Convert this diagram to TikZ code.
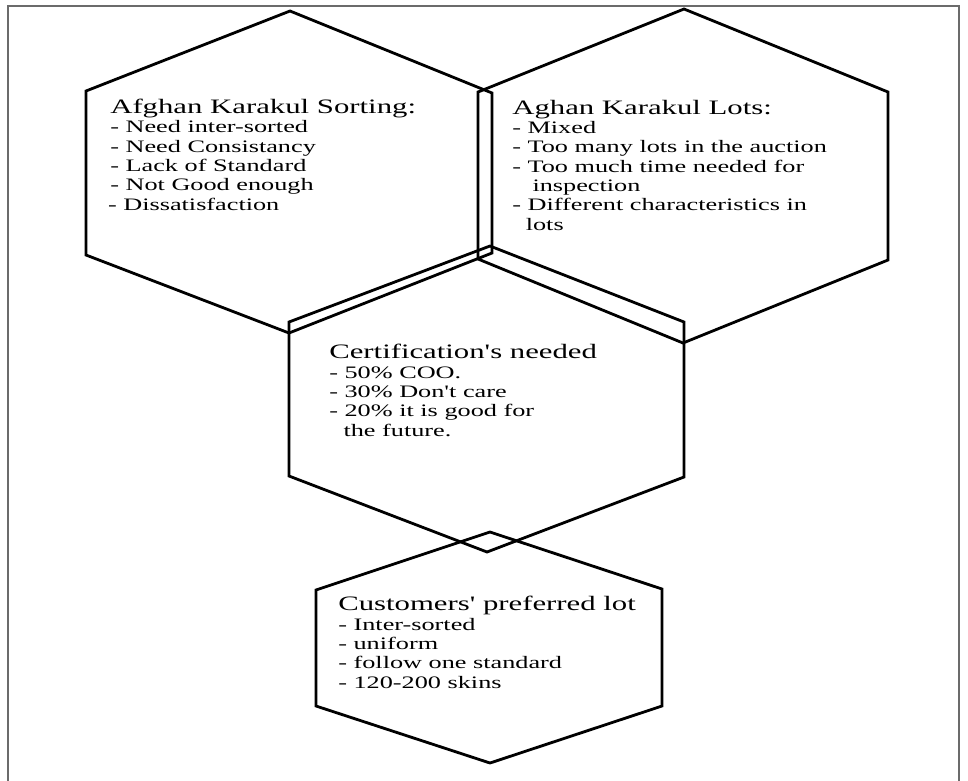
\documentclass[tikz,border=0pt]{standalone}
\usepackage{fontspec}
\setmainfont{Liberation Serif}

\begin{document}
\begin{tikzpicture}[x=1pt, y=-1pt,
		hexline/.style={line width=2.8pt, line join=miter},
		framebox/.style={draw=black!58, line width=2pt},
		hextext/.style={anchor=base west, align=left, inner sep=0pt, xscale=1.5, font=\fontsize{17.5}{19.3}\selectfont}]
			\useasboundingbox (0,0) rectangle (968,780);
			\draw[framebox] (8,6) rectangle (959,800);
			
			\draw[hexline] (290,11) -- (492,93) -- (492,253) -- (289,333) -- (86,255) -- (86,91) -- cycle;
			\draw[hexline] (684,9) -- (888,92) -- (888,260) -- (683,343) -- (478,259) -- (478,92) -- cycle;
			\draw[hexline] (490,246) -- (684,322) -- (684,477) -- (487,552) -- (289,476) -- (289,322) -- cycle;
			\draw[hexline] (490,532) -- (662,589) -- (662,706) -- (490,763) -- (316,706) -- (316,590) -- cycle;
			
			\node[hextext] (sorting) at (110,210) {{\fontsize{20.5}{20}\selectfont Afghan Karakul Sorting:}\\
				- Need inter-sorted\\
				- Need Consistancy\\
				- Lack of Standard\\
				- Not Good enough\\
				\hspace*{-1.5pt}- Dissatisfaction};
			\node[hextext] (lots) at (512,230) {{\fontsize{20.5}{20}\selectfont Aghan Karakul Lots:}\\
				- Mixed\\
				- Too many lots in the auction\\
				- Too much time needed for\\
				\hspace*{13.5pt}inspection\\
				- Different characteristics in\\
				\hspace*{9pt}lots};
			\node[hextext] (cert) at (329,436) {{\fontsize{20.5}{20}\selectfont Certification\textquotesingle s needed}\\
				- 50\% COO.\\
				- 30\% Don\textquotesingle t care\\
				- 20\% it is good for\\
				\hspace*{9.5pt}the future.};
			\node[hextext] (lot) at (338,688) {{\fontsize{20.5}{20}\selectfont Customers\textquotesingle{} preferred lot}\\
				- Inter-sorted\\
				- uniform\\
				- follow one standard\\
				- 120-200 skins};
		\end{tikzpicture}
\end{document}
